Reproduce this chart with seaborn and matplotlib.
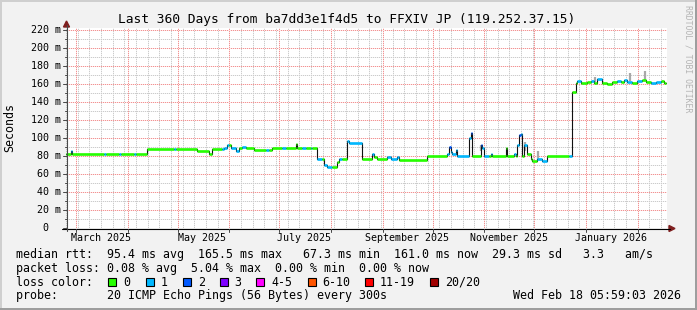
import matplotlib
matplotlib.use('Agg')
import matplotlib.pyplot as plt
import seaborn as sns
import pandas as pd
import numpy as np
from matplotlib.patches import Rectangle, Polygon
from matplotlib.lines import Line2D

# ---------------- data ----------------
med_dates = [
    "2025-02-23 06:00", "2025-02-26", "2025-02-27", "2025-03-18", "2025-03-19", "2025-03-27",
    "2025-03-28", "2025-04-05", "2025-04-06", "2025-04-13", "2025-04-29", "2025-04-30",
    "2025-05-13", "2025-05-20", "2025-05-22", "2025-05-28", "2025-05-29", "2025-05-31",
    "2025-06-01", "2025-06-02", "2025-06-05", "2025-06-07", "2025-06-09", "2025-06-11",
    "2025-06-16", "2025-06-23", "2025-06-25", "2025-06-27", "2025-07-03", "2025-07-05",
    "2025-07-11", "2025-07-12", "2025-07-15", "2025-07-17", "2025-07-20", "2025-07-21",
    "2025-07-24", "2025-07-27", "2025-07-28", "2025-07-30", "2025-08-02", "2025-08-05",
    "2025-08-06", "2025-08-08", "2025-08-11", "2025-08-12", "2025-08-20", "2025-08-26",
    "2025-08-27", "2025-08-29", "2025-09-04", "2025-09-06", "2025-09-10", "2025-09-11",
    "2025-09-28", "2025-10-10", "2025-10-11", "2025-10-12", "2025-10-13", "2025-10-15",
    "2025-10-16", "2025-10-23", "2025-10-24", "2025-10-25", "2025-10-30", "2025-10-31",
    "2025-11-01", "2025-11-04", "2025-11-05", "2025-11-06", "2025-11-14", "2025-11-15",
    "2025-11-19", "2025-11-20", "2025-11-21", "2025-11-22", "2025-11-23", "2025-11-24",
    "2025-11-25", "2025-11-27", "2025-11-29", "2025-11-30", "2025-12-03", "2025-12-06",
    "2025-12-09", "2025-12-22", "2025-12-24", "2025-12-26", "2025-12-27", "2025-12-29",
    "2026-01-02", "2026-01-04", "2026-01-06", "2026-01-08", "2026-01-11", "2026-01-14",
    "2026-01-17", "2026-01-20", "2026-01-22", "2026-01-24", "2026-01-26", "2026-01-29",
    "2026-02-01", "2026-02-04", "2026-02-06", "2026-02-09", "2026-02-12", "2026-02-15",
    "2026-02-17",
]
med_values = [
    82.5, 85.2, 82.5, 82.5, 82.5, 82.5,
    82.5, 82.5, 82.5, 88.0, 88.0, 88.0,
    86.0, 82.5, 87.5, 87.5, 89.2, 91.8,
    91.8, 89.2, 86.0, 89.2, 89.8, 89.2,
    86.7, 86.7, 86.7, 88.5, 88.5, 88.5,
    93.0, 88.5, 88.5, 88.5, 88.5, 88.5,
    76.3, 76.3, 70.0, 67.4, 67.4, 73.7,
    76.3, 76.3, 96.7, 94.8, 76.3, 81.9,
    79.0, 76.3, 78.5, 76.3, 78.5, 76.0,
    80.4, 82.5, 90.4, 84.8, 82.0, 86.7,
    80.4, 99.6, 105.2, 80.4, 92.2, 88.5,
    80.4, 80.4, 82.5, 80.4, 88.5, 80.4,
    82.5, 80.4, 92.2, 103.3, 105.0, 80.4,
    92.0, 82.5, 76.3, 74.8, 76.7, 74.8,
    80.4, 80.4, 151.1, 160.7, 163.3, 161.5,
    162.2, 163.7, 161.5, 165.6, 161.5, 160.3,
    161.9, 163.7, 162.2, 164.4, 162.6, 161.5,
    163.3, 164.4, 161.9, 161.5, 162.2, 163.3,
    161.0,
]
med_loss = [
    0, 1, 0, 1, 0, 1,
    0, 1, 0, 0, 1, 0,
    0, 0, 0, 1, 1, 1,
    0, 1, 1, 0, 1, 0,
    0, 1, 0, 0, 1, 0,
    0, 0, 1, 0, 1, 0,
    1, 0, 1, 1, 0, 0,
    1, 0, 1, 1, 0, 1,
    0, 0, 1, 1, 1, 0,
    0, 1, 2, 1, 1, 1,
    1, 1, 2, 0, 2, 1,
    1, 0, 1, 0, 0, 0,
    1, 0, 1, 2, 1, 0,
    1, 0, 0, 0, 1, 1,
    0, 1, 0, 0, 1, 0,
    0, 1, 0, 1, 0, 0,
    0, 1, 0, 1, 1, 0,
    1, 0, 0, 1, 1, 0,
    0,
]
series_end = "2026-02-18 06:00"

smoke_dates = ["2025-10-30", "2025-11-25", "2025-12-03", "2026-01-06", "2026-01-27", "2026-02-05"]
smoke_low = [86.0, 86.0, 76.0, 162.0, 163.0, 163.0]
smoke_high = [92.5, 96.0, 85.5, 167.4, 172.6, 174.8]

loss_labels = ["0", "1", "2", "3", "4-5", "6-10", "11-19", "20/20"]
loss_colors = ["#26ff00", "#00b8ff", "#0059ff", "#7e00ff", "#ff00ff", "#ff5500", "#ff0000", "#a10000"]

ytick_values = [0, 20, 40, 60, 80, 100, 120, 140, 160, 180, 200, 220]
ytick_labels = ["0", "20 m", "40 m", "60 m", "80 m", "100 m", "120 m", "140 m",
                "160 m", "180 m", "200 m", "220 m"]
xlabel_dates = ["2025-03-16", "2025-05-16", "2025-07-16", "2025-09-16", "2025-11-16", "2026-01-16"]
xlabel_texts = ["March 2025", "May 2025", "July 2025", "September 2025", "November 2025", "January 2026"]

title = "Last 360 Days from ba7dd3e1f4d5 to FFXIV JP (119.252.37.15)"
legend_rtt = "median rtt:  95.4 ms avg  165.5 ms max   67.3 ms min  161.0 ms now  29.3 ms sd   3.3   am/s"
legend_loss = "packet loss: 0.08 % avg  5.04 % max  0.00 % min  0.00 % now"
probe_text = "probe:       20 ICMP Echo Pings (56 Bytes) every 300s"
stamp_text = "Wed Feb 18 05:59:03 2026"

# ---------------- figure ----------------
sns.set_theme(style="white")
plt.rcParams['font.family'] = ['DejaVu Sans Mono', 'DejaVu Sans']

W, H = 697, 310
fig = plt.figure(figsize=(W / 100, H / 100), dpi=100)
fig.patch.set_facecolor('#f2f2f2')

def fx(x):
    return x / W

def fy(y):
    return 1 - y / H

PX0, PX1, PY0, PY1 = 66, 667, 28, 228
ax = fig.add_axes([fx(PX0), fy(PY1), (PX1 - PX0) / W, (PY1 - PY0) / H])
ax.patch.set_visible(False)
for s in ax.spines.values():
    s.set_visible(False)

t0 = pd.Timestamp("2025-02-23 06:00")
t1 = t0 + pd.Timedelta(days=(PX1 - PX0) * 0.6)
ymax = (PY1 - PY0) / 0.9

def xpix(d):
    return PX0 + (d - t0).total_seconds() / 86400 / 0.6

def ypix(v):
    return PY1 - v * 0.9

# ---- canvas with pixel-dotted grid (rrdtool style) ----
pw, ph = PX1 - PX0, PY1 - PY0
canvas = np.ones((ph, pw, 3))
minor_on = np.array([0.80, 0.80, 0.80])
minor_off = np.array([0.95, 0.95, 0.95])
major_on = np.array([0.95, 0.58, 0.58])
major_off = np.array([0.99, 0.90, 0.90])

def hgrid(v, on, off):
    r = int(round(ypix(v))) - PY0
    if 0 <= r < ph:
        canvas[r, 0::2] = off
        canvas[r, 1::2] = on

def vgrid(d, on, off):
    c = int(round(xpix(d))) - PX0
    if 0 <= c < pw:
        canvas[0::2, c] = off
        canvas[1::2, c] = on

for v in range(10, 230, 20):
    hgrid(v, minor_on, minor_off)
for d in pd.date_range(t0, t1, freq='W-SUN'):
    vgrid(d, minor_on, minor_off)
for v in range(20, 230, 20):
    hgrid(v, major_on, major_off)
for d in pd.date_range(t0, t1, freq='MS'):
    vgrid(d, major_on, major_off)
fig.figimage(canvas, xo=PX0, yo=H - PY1, origin='upper', zorder=-1)

# smoke
sd = pd.to_datetime(smoke_dates, format='mixed')
ax.vlines(sd + pd.Timedelta(hours=12), smoke_low, smoke_high, colors='#a8a8a8', lw=1.6, zorder=3)

# median line (black connectors) via seaborn
starts = pd.to_datetime(med_dates, format='mixed')
ends = list(starts[1:]) + [pd.Timestamp(series_end)]
df = pd.DataFrame({"time": list(starts) + [pd.Timestamp(series_end)],
                   "rtt": med_values + [med_values[-1]]})
sns.lineplot(data=df, x="time", y="rtt", drawstyle='steps-post', color='#111111',
             lw=0.8, ax=ax, estimator=None, zorder=4)
ax.set_xlabel("")
ax.set_ylabel("")

# loss-coloured segments
for s0, s1, v, l in zip(starts, ends, med_values, med_loss):
    ax.hlines(v, s0, s1, colors=loss_colors[l], lw=1.9, zorder=5)

ax.set_xlim(t0, t1)
ax.set_ylim(0, ymax)
ax.set_xticks([])
ax.set_yticks([])

# ---------------- axes, ticks, arrows ----------------
tf = fig.transFigure

def fline(x0, y0, x1, y1, color, lw=0.72):
    fig.add_artist(Line2D([fx(x0), fx(x1)], [fy(y0), fy(y1)], color=color, lw=lw, transform=tf))

fline(62, 228.5, 670, 228.5, '#000000', 0.8)
fline(66.5, 231, 66.5, 25, '#4a4a4a', 0.8)
fig.add_artist(Polygon([[fx(669), fy(225.5)], [fx(675), fy(228.5)], [fx(669), fy(231.5)]],
                       closed=True, color='#7f1f1f', transform=tf))
fig.add_artist(Polygon([[fx(63.5), fy(27)], [fx(66.5), fy(21)], [fx(69.5), fy(27)]],
                       closed=True, color='#7f1f1f', transform=tf))

for v in range(0, 230, 10):
    yp = ypix(v)
    if v % 20 == 0:
        fline(63, yp, 66.5, yp, '#4a4a4a', 0.72)
    else:
        fline(64.5, yp, 66.5, yp, '#4a4a4a', 0.72)

for d in pd.date_range(t0, t1, freq='MS'):
    xp = xpix(d)
    fline(xp, 228.5, xp, 232, '#4a4a4a', 0.72)

tick_fs = 7.2
for v, lab in zip(ytick_values, ytick_labels):
    xr = 60.7 if v != 0 else 48.7
    fig.text(fx(xr), fy(ypix(v)), lab, ha='right', va='center', fontsize=tick_fs, color='black')

for d, lab in zip(pd.to_datetime(xlabel_dates), xlabel_texts):
    fig.text(fx(xpix(d)), fy(238), lab, ha='center', va='center', fontsize=tick_fs, color='black')

# ---------------- texts ----------------
fig.text(fx(347), fy(19), title, ha='center', va='center', fontsize=9.3, color='black')
fig.text(fx(10), fy(127), "Seconds", ha='center', va='center', rotation=90, fontsize=8.4, color='black')
fig.text(fx(688), fy(59), "RRDTOOL / TOBI OETIKER", ha='center', va='center', rotation=270,
         fontsize=5.9, color='#b4b4b4')

leg_fs = 8.4
fig.text(fx(16), fy(254.3), legend_rtt, ha='left', va='center', fontsize=leg_fs, color='black')
fig.text(fx(16), fy(268.3), legend_loss, ha='left', va='center', fontsize=leg_fs, color='black')
fig.text(fx(16), fy(282.3), "loss color:", ha='left', va='center', fontsize=leg_fs, color='black')
box_x = [108, 145.7, 182.7, 219.5, 256.3, 307.7, 365, 430]
for bx, lab, col in zip(box_x, loss_labels, loss_colors):
    fig.add_artist(Rectangle((fx(bx), fy(286.3)), 8 / W, 8 / H, facecolor=col,
                             edgecolor='black', lw=0.8, transform=tf))
    fig.text(fx(bx + 15), fy(282.3), lab, ha='left', va='center', fontsize=leg_fs, color='black')
fig.text(fx(16), fy(295.8), probe_text, ha='left', va='center', fontsize=leg_fs, color='black')
fig.text(fx(681), fy(295.8), stamp_text, ha='right', va='center', fontsize=leg_fs, color='black')

# ---------------- frame shading ----------------
fig.add_artist(Rectangle((0, fy(2)), 1, 2 / H, facecolor='#cfcfcf', edgecolor='none', transform=tf))
fig.add_artist(Rectangle((0, 0), 2 / W, 1, facecolor='#cfcfcf', edgecolor='none', transform=tf))
fig.add_artist(Rectangle((0, 0), 1, 2 / H, facecolor='#9e9e9e', edgecolor='none', transform=tf))
fig.add_artist(Rectangle((fx(695), 0), 2 / W, 1, facecolor='#9e9e9e', edgecolor='none', transform=tf))

fig.savefig("out.png", dpi=100, facecolor=fig.get_facecolor())
